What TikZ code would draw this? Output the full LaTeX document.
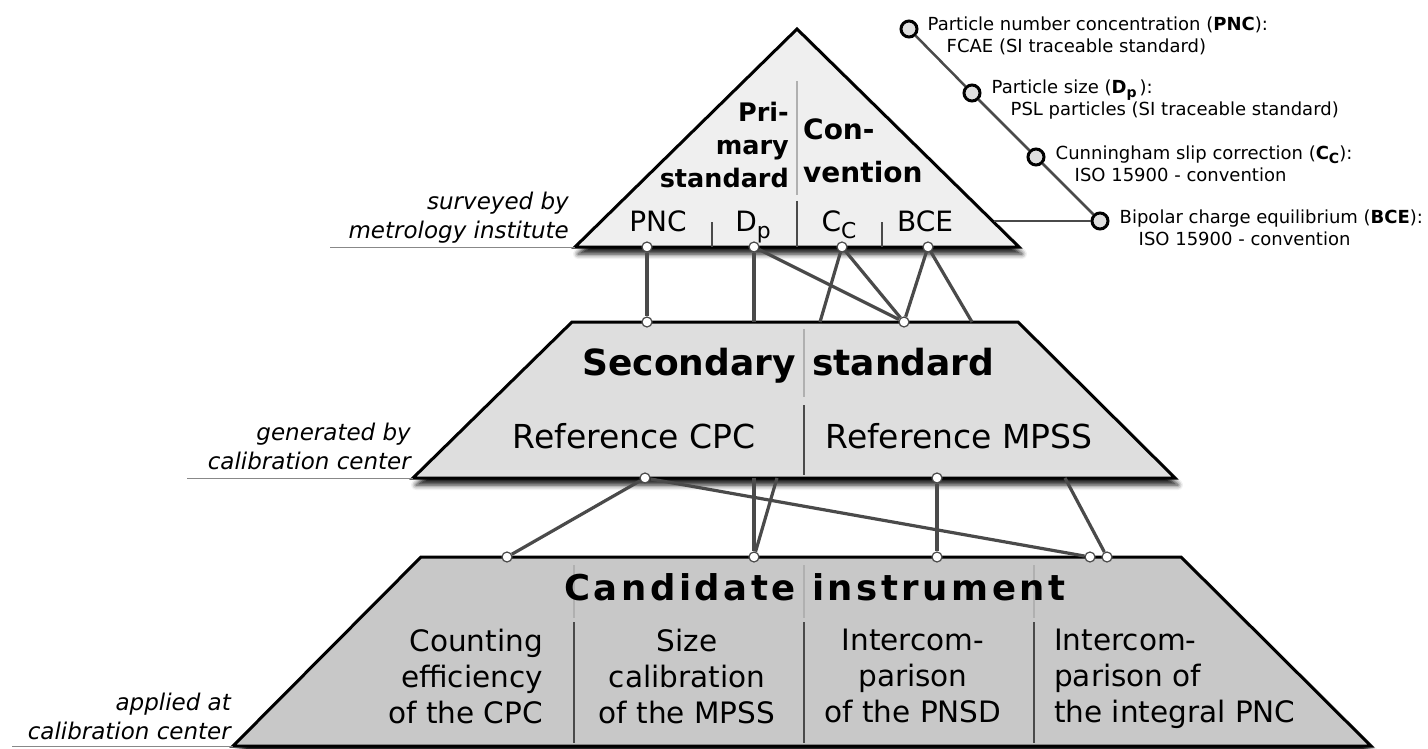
\documentclass[tikz,border=0pt]{standalone}
\usepackage{fontspec}
\setmainfont{DejaVu Sans}[ItalicFont={DejaVu Sans Oblique}, BoldFont={DejaVu Sans Bold}]
\newfontfamily\spacedbold{DejaVu Sans Bold}[LetterSpace=10]
\usetikzlibrary{positioning,shadows.blur}

\definecolor{topgray}{HTML}{EFEFEF}
\definecolor{midgray}{HTML}{DEDEDE}
\definecolor{lowgray}{HTML}{C8C8C8}
\definecolor{linkgray}{HTML}{4A4A4A}
\definecolor{rulegray}{HTML}{888888}
\definecolor{sepgray}{HTML}{B0B0B0}

\newcommand{\fsize}[2]{\fontsize{#1}{#2}\selectfont}
\newcommand{\lowsub}[1]{\raisebox{-0.22em}{\scalebox{0.78}{#1}}}

\tikzset{
  tier/.style={draw=black, line width=3pt, line join=miter,
    blur shadow={shadow xshift=3pt, shadow yshift=-7pt,
      shadow blur radius=5pt, shadow opacity=90}},
  link/.style={draw=linkgray, line width=3.2pt},
  joint/.style={circle, draw=linkgray, fill=white, line width=1.2pt,
    inner sep=0pt, minimum size=10pt},
  legdot/.style={circle, draw=black, fill=midgray, line width=3pt,
    inner sep=0pt, minimum size=16pt},
  legline/.style={draw=linkgray, line width=2.5pt},
  legtext/.style={font=\fsize{18}{22}, align=left, inner sep=0pt},
  sepline/.style={draw=sepgray, line width=1.2pt},
  divline/.style={draw=linkgray, line width=2.5pt},
  floorline/.style={draw=rulegray, line width=1pt},
  sidenote/.style={font=\fsize{23}{29}\itshape, align=right, inner sep=0pt},
  quantity/.style={font=\fsize{28}{34}, inner sep=0pt, anchor=base},
  cell/.style={font=\fsize{29.5}{36}, inner sep=0pt}
}

\begin{document}
\begin{tikzpicture}[x=1pt, y=-1pt]
  \useasboundingbox (0,0) rectangle (1428,749);

  % corners of the three levels
  \coordinate (apex) at (797,29);
  \coordinate (tl) at (575,247);
  \coordinate (tr) at (1019,247);
  \coordinate (ml) at (413,478);
  \coordinate (mr) at (1175,478);
  \coordinate (ul) at (233,746);
  \coordinate (ur) at (1371,746);

  % the levels
  \path[tier, fill=topgray] (apex) -- (tr) -- (tl) -- cycle;
  \path[tier, fill=midgray] (572,322) -- (1018,322) -- (mr) -- (ml) -- cycle;
  \path[tier, fill=lowgray] (421,557) -- (1181,557) -- (ur) -- (ul) -- cycle;

  % who does what
  \node (surveyed) [sidenote, above left=3.5pt and 6pt of tl] {surveyed by\\metrology institute};
  \node (generated) [sidenote, above left=8pt and 2pt of ml] {generated by\\calibration center};
  \node (applied) [sidenote, above left=6pt and 2pt of ul] {applied at\\calibration center};
  \coordinate (surveyedrule) at (330,247);
  \coordinate (generatedrule) at (187,478);
  \coordinate (appliedrule) at (12,746);
  \draw[floorline] (surveyedrule) -- (tl);
  \draw[floorline] (generatedrule) -- (ml);
  \draw[floorline] (appliedrule) -- (ul);

  % primary standard / convention
  \coordinate (splittop) at (797,81);
  \coordinate (splitbot) at (797,195);
  \draw[sepline] (splittop) -- (splitbot);
  \node (primary) [font=\fsize{25.5}{33}\bfseries, align=right, inner sep=0pt,
    above left=7pt and 8pt of splitbot] {Pri-\\mary\\standard};
  \node (convention) [font=\fsize{28}{43}\bfseries, align=left, inner sep=0pt,
    above right=12pt and 6pt of splitbot] {Con-\\vention};
  \draw[divline] (712,222) -- (712,247);
  \draw[divline] (797,201) -- (797,247);
  \draw[divline] (882,222) -- (882,247);
  \node (pnc) [quantity] at (658,232) {PNC};
  \node (dp) [quantity] at (753,232) {D\lowsub{p}};
  \node (cc) [quantity] at (839,232) {C\lowsub{C}};
  \node (bce) [quantity] at (925,232) {BCE};

  % secondary standard
  \draw[sepline] (804,329) -- (804,397);
  \draw[divline] (804,405) -- (804,475);
  \node (secondary) [font=\fsize{36}{43}\bfseries, inner sep=0pt, anchor=base east] at (796,375) {Secondary};
  \node (standard) [font=\fsize{36}{43}\bfseries, inner sep=0pt, anchor=base west] at (812,375) {standard};
  \node (refcpc) [font=\fsize{33}{40}, inner sep=0pt, anchor=base] at (634,448) {Reference CPC};
  \node (refmpss) [font=\fsize{33}{40}, inner sep=0pt, anchor=base] at (959,448) {Reference MPSS};

  % candidate instrument
  \foreach \x in {574,804,1034} {
    \draw[sepline] (\x,565) -- (\x,618);
    \draw[divline] (\x,622) -- (\x,743);
  }
  \node (candidate) [font=\fsize{35.5}{42}\spacedbold, inner sep=0pt, anchor=base east] at (796,600) {Candidate};
  \node (instrument) [font=\fsize{35.5}{42}\spacedbold, inner sep=0pt, anchor=base west] at (812,600) {instrument};
  \node (counting) [cell, align=right, anchor=north east] at (543,629) {Counting\\efficiency\\of the CPC};
  \node (sizecal) [cell, align=center, anchor=north] at (687,629) {Size\\calibration\\of the MPSS};
  \node (pnsd) [cell, align=center, anchor=north] at (913,629) {Intercom-\\parison\\of the PNSD};
  \node (integral) [cell, align=left, anchor=north west] at (1054,629) {Intercom-\\parison of\\the integral PNC};

  % joints
  \node[joint] (tPNC) at (647,247) {};
  \node[joint] (tDp) at (754,247) {};
  \node[joint] (tCc) at (842,247) {};
  \node[joint] (tBCE) at (928,247) {};
  \node[joint] (sPNC) at (647,322) {};
  \node[joint] (sMix) at (904,322) {};
  \node[joint] (sCPC) at (645,478) {};
  \node[joint] (sMPSS) at (937,478) {};
  \node[joint] (cEff) at (507,557) {};
  \node[joint] (cSize) at (754,557) {};
  \node[joint] (cPNSD) at (937,557) {};
  \node[joint] (cPNCa) at (1090,557) {};
  \node[joint] (cPNCb) at (1107,557) {};
  \coordinate (sDp) at (754,322);
  \coordinate (sCc) at (820,322);
  \coordinate (sBCE) at (972,322);
  \coordinate (sDpa) at (754,478);
  \coordinate (sDpb) at (777,478);
  \coordinate (sRight) at (1065,478);

  % links
  \draw[link] (tPNC) -- (sPNC);
  \draw[link] (tDp) -- (sDp);
  \draw[link] (tDp) -- (sMix);
  \draw[link] (tCc) -- (sCc);
  \draw[link] (tCc) -- (sMix);
  \draw[link] (tBCE) -- (sMix);
  \draw[link] (tBCE) -- (sBCE);
  \draw[link] (sCPC) -- (cEff);
  \draw[link] (sCPC) -- (cPNCa);
  \draw[link] (sDpa) -- (cSize);
  \draw[link] (sDpb) -- (cSize);
  \draw[link] (sMPSS) -- (cPNSD);
  \draw[link] (sRight) -- (cPNCb);

  % legend
  \node[legdot] (leg1) at (909,29) {};
  \node[legdot] (leg2) at (972,93) {};
  \node[legdot] (leg3) at (1036,157) {};
  \node[legdot] (leg4) at (1100,221) {};
  \coordinate (bceedge) at (994,221);
  \draw[legline] (leg1) -- (leg2);
  \draw[legline] (leg2) -- (leg3);
  \draw[legline] (leg3) -- (leg4);
  \draw[legline] (bceedge) -- (leg4);
  \node (legpnc) [legtext, right=9pt of leg1, yshift=-7pt]
    {Particle number concentration (\textbf{PNC}):\\\hspace*{19pt}FCAE (SI traceable standard)};
  \node (legdp) [legtext, right=10pt of leg2, yshift=-7pt]
    {Particle size (\textbf{D\lowsub{p}}\,):\\\hspace*{19pt}PSL particles (SI traceable standard)};
  \node (legcc) [legtext, right=10pt of leg3, yshift=-7pt]
    {Cunningham slip correction (\textbf{C\lowsub{C}}):\\\hspace*{19pt}ISO 15900 - convention};
  \node (legbce) [legtext, right=10pt of leg4, yshift=-7pt]
    {Bipolar charge equilibrium (\textbf{BCE}):\\\hspace*{19pt}ISO 15900 - convention};
\end{tikzpicture}
\end{document}
